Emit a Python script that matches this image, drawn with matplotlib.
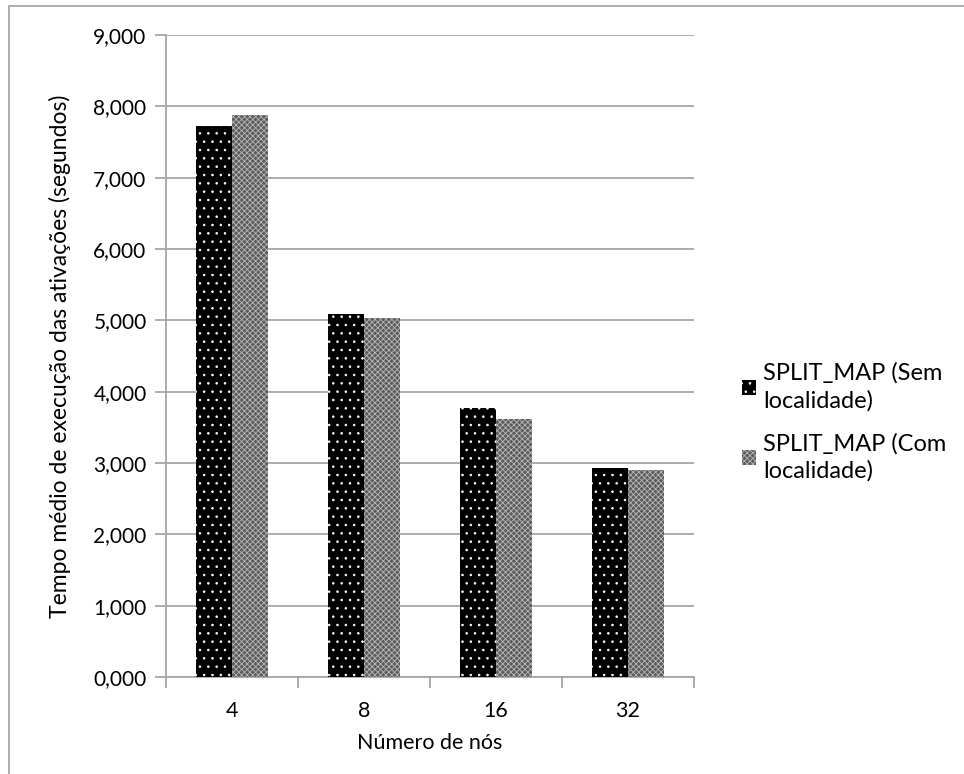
import matplotlib.pyplot as plt
import numpy as np
from matplotlib.patches import Rectangle

plt.rcParams['font.family'] = ['Lato', 'DejaVu Sans']
plt.rcParams['hatch.linewidth'] = 0.6

categories = ['4', '8', '16', '32']
sem_localidade = [7.724, 5.086, 3.773, 2.932]
com_localidade = [7.884, 5.030, 3.610, 2.896]
series_names = ['SPLIT_MAP (Sem\nlocalidade)', 'SPLIT_MAP (Com\nlocalidade)']
yticks = [0, 1, 2, 3, 4, 5, 6, 7, 8, 9]

grid_color = '#a6a6a6'

fig = plt.figure(figsize=(9.64, 7.74), dpi=100)
ax = fig.add_axes([0.1722, 0.1253, 0.5477, 0.8295])

x = np.arange(len(categories))
w = 0.275
ax.bar(x - w / 2, sem_localidade, w, color='black', edgecolor='white',
       linewidth=0, hatch='..', label=series_names[0], zorder=3)
ax.bar(x + w / 2, com_localidade, w, color='#5c5c5c', edgecolor='#b8b8b8',
       linewidth=0, hatch='xxxxxx', label=series_names[1], zorder=3)

ax.set_xlim(-0.5, len(categories) - 0.5)
ax.set_ylim(0, 9)
ax.set_yticks(yticks)
ax.set_yticklabels(['{:.3f}'.format(v).replace('.', ',') for v in yticks])
ax.yaxis.grid(True, color=grid_color, linewidth=1.3, zorder=0)

ax.set_xticks(x)
ax.set_xticklabels(categories)
ax.set_xticks(np.arange(len(categories) + 1) - 0.5, minor=True)
ax.tick_params(axis='x', which='major', length=0, pad=17, labelsize=15.5)
ax.tick_params(axis='x', which='minor', length=8, color=grid_color, width=1.3)
ax.tick_params(axis='y', length=8, color=grid_color, width=1.3, labelsize=15, pad=6)

for s in ['top', 'right']:
    ax.spines[s].set_visible(False)
for s in ['left', 'bottom']:
    ax.spines[s].set_color(grid_color)
    ax.spines[s].set_linewidth(1.3)

ax.set_xlabel('Número de nós', fontsize=15.5, labelpad=9)
ax.set_ylabel('Tempo médio de execução das ativações (segundos)', fontsize=16.5, labelpad=16)

leg = ax.legend(loc='center left', bbox_to_anchor=(1.05, 0.397), frameon=False,
                fontsize=17, handlelength=0.6, handleheight=0.6, handletextpad=0.3,
                labelspacing=0.9)
for t in leg.get_texts():
    t.set_linespacing(1.35)

# outer chart border
fig.patches.append(Rectangle((0.0095, -0.01), 1.2, 1.002, transform=fig.transFigure,
                             fill=False, edgecolor='#a0a0a0', linewidth=1.2))

fig.savefig('out.png', dpi=100)
